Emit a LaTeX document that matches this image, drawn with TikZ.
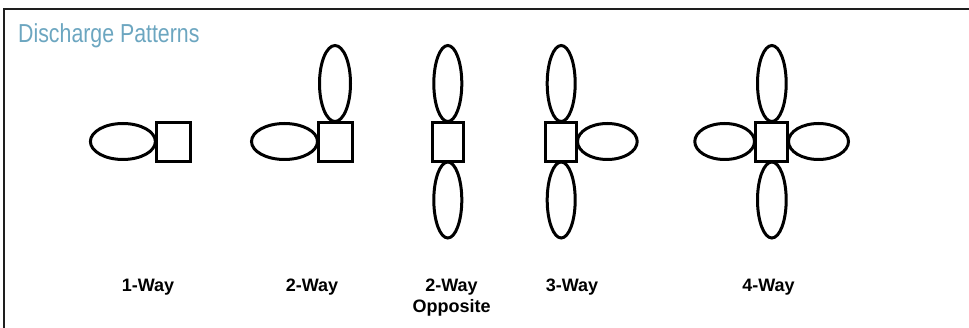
\documentclass[tikz,border=0pt]{standalone}
\usepackage{fontspec}
\setmainfont{Liberation Sans}
\usetikzlibrary{shapes.geometric}
\definecolor{titleblue}{RGB}{108,166,192}
\definecolor{framegray}{RGB}{30,30,30}
\tikzset{
  lobe/.style={draw=black, line width=3pt, ellipse, inner sep=0pt, outer sep=0pt},
  hlobe/.style={lobe, minimum width=#1, minimum height=36pt},
  vlobe/.style={lobe, minimum width=#1, minimum height=76pt},
  unit/.style={draw=black, fill=white, line width=3pt, rectangle, inner sep=0pt, outer sep=0pt, minimum height=39pt, minimum width=#1},
  lbl/.style={font=\fontsize{18}{21}\selectfont\bfseries, inner sep=0pt, anchor=base, align=center},
}
\begin{document}
\begin{tikzpicture}[x=1pt,y=-1pt]
\useasboundingbox (0,0) rectangle (969,328);
% frame
\coordinate (ftl) at (4,9);
\coordinate (ftr) at (969,9);
\coordinate (fbl) at (4,328);
\draw[framegray, line width=2pt] (fbl) -- (ftl) -- (ftr);
% title
\node[anchor=base west, inner sep=0pt, text=titleblue, font=\fontsize{26}{30}\selectfont] (title) at (18,42.7) {\scalebox{0.82}[1]{Discharge Patterns}};
% 1-Way
\node[hlobe=65pt] (a1) at (122.9,141.5) {};
\node[unit=33.7pt] (s1) at (173.65,141.7) {};
% 2-Way
\node[hlobe=66pt] (b1) at (284.5,141.5) {};
\node[vlobe=31pt] (b2) at (335.0,83.5) {};
\node[unit=34pt] (s2) at (335.5,141.7) {};
% 2-Way Opposite
\node[vlobe=28pt] (c1) at (447.8,83.5) {};
\node[vlobe=28pt] (c2) at (447.8,200.0) {};
\node[unit=31.3pt] (s3) at (447.85,141.7) {};
% 3-Way
\node[vlobe=28pt] (d1) at (561.2,83.5) {};
\node[vlobe=28pt] (d2) at (561.2,200.0) {};
\node[hlobe=59.7pt] (d3) at (607.35,141.5) {};
\node[unit=31pt] (s4) at (561.3,141.7) {};
% 4-Way
\node[hlobe=59.7pt] (e1) at (724.65,141.5) {};
\node[hlobe=60pt] (e2) at (818.5,141.5) {};
\node[vlobe=28.7pt] (e3) at (771.85,83.5) {};
\node[vlobe=28.7pt] (e4) at (771.85,200.0) {};
\node[unit=31.4pt] (s5) at (771.5,141.7) {};
% labels
\node[lbl] (l1) at (148,292) {1-Way};
\node[lbl] (l2) at (312,292) {2-Way};
\node[lbl] (l3) at (451.5,313) {2-Way\\Opposite};
\node[lbl] (l4) at (572,292) {3-Way};
\node[lbl] (l5) at (768.5,292) {4-Way};
\end{tikzpicture}
\end{document}
